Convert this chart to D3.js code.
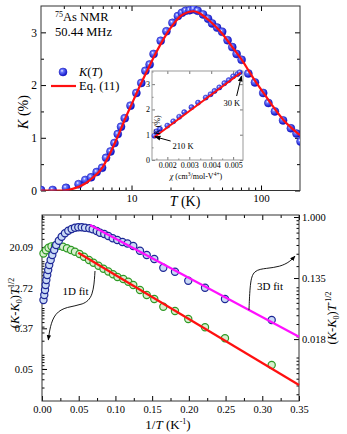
<!DOCTYPE html>
<html>
<head>
<meta charset="utf-8">
<script src="https://cdn.jsdelivr.net/npm/d3@7"></script>
<style>
body { margin: 0; background: #fff; }
svg text { font-family: "Liberation Serif", "Times New Roman", serif; fill: #000; }
</style>
</head>
<body>
<div id="wrapper"></div>
<script>
// top panel: K(T) data and Eq. (11) curve
const kT = [2.0, 2.46, 3.12, 3.9, 4.4, 4.87, 5.38, 5.93, 6.36, 6.88, 7.38, 7.83, 8.3, 8.87, 9.82, 10.9, 11.9, 12.8, 13.8, 14.8,
    16.8, 18.6, 20.7, 22.8, 24.5, 26.2, 28.1, 30.2, 32.4, 35.7, 39.0, 41.9, 45.8, 50.1, 55.2, 60.0, 64.8, 70.8, 79.8, 89.8,
    104, 114, 128, 148, 170, 188, 202];
const kVal = [0.01, 0.01, 0.05, 0.12, 0.2, 0.25, 0.35, 0.43, 0.62, 0.74, 0.90, 1.07, 1.21, 1.37, 1.61, 1.85, 2.04, 2.27, 2.39, 2.59,
    2.84, 3.02, 3.18, 3.31, 3.37, 3.41, 3.42, 3.44, 3.41, 3.34, 3.26, 3.17, 3.09, 3.01, 2.85, 2.72, 2.59, 2.48, 2.22, 2.05,
    1.85, 1.66, 1.50, 1.33, 1.18, 1.08, 0.93];
const fitT = [2, 3, 3.5, 4, 4.5, 5, 5.5, 6, 6.5, 7, 7.5, 8, 9, 10, 11, 12, 13, 14, 15, 17, 19, 21, 23, 25, 28, 30, 33, 36, 40,
    45, 50, 60, 70, 80, 90, 100, 120, 150, 175, 200];
const fitK = [0, 0, 0.03, 0.08, 0.15, 0.24, 0.33, 0.45, 0.6, 0.76, 0.92, 1.08, 1.38, 1.63, 1.86, 2.06, 2.24, 2.4, 2.55, 2.8, 3.0,
    3.15, 3.27, 3.34, 3.39, 3.40, 3.37, 3.31, 3.22, 3.1, 2.98, 2.72, 2.5, 2.28, 2.08, 1.92, 1.64, 1.33, 1.17, 1.05];

// inset: K vs chi
const insetChi = [0.00141, 0.0015, 0.00166, 0.0020, 0.00227, 0.00254, 0.00277, 0.0031, 0.0034, 0.00375, 0.00397, 0.00415,
    0.00437, 0.0046, 0.0048, 0.0050, 0.0052, 0.0053];
const insetK = [0.96, 1.13, 1.23, 1.36, 1.53, 1.71, 1.89, 2.09, 2.27, 2.47, 2.6, 2.73, 2.87, 3.04, 3.16, 3.31, 3.4, 3.47];
const insetFitChi = [0.00140, 0.00535];
const insetFitK = [0.90, 3.45];

// bottom panel
const blueInvT = [0.0020, 0.0031, 0.0041, 0.0049, 0.0059, 0.0071, 0.0084, 0.0098, 0.0118, 0.0140, 0.0166, 0.0193, 0.0229,
    0.0268, 0.0313, 0.0358, 0.0404, 0.0449, 0.0494, 0.0541, 0.0586, 0.0644, 0.0690, 0.0745, 0.0790, 0.0848, 0.0903, 0.0963,
    0.1025, 0.1096, 0.1164, 0.1243, 0.1334, 0.1426, 0.1529, 0.1652, 0.1811, 0.1992, 0.2220, 0.2492, 0.3128];
const blueVal = [0.0658, 0.0775, 0.0913, 0.1076, 0.1267, 0.1493, 0.1759, 0.2073, 0.2442, 0.2877, 0.3389, 0.3993, 0.4598,
    0.5243, 0.5860, 0.6383, 0.6749, 0.7040, 0.7133, 0.7133, 0.7040, 0.6906, 0.6682, 0.6319, 0.5977, 0.5728, 0.5364, 0.4974,
    0.4704, 0.4406, 0.4194, 0.3864, 0.3312, 0.2877, 0.2524, 0.1897, 0.1664, 0.1239, 0.0984, 0.0680, 0.0342];
const greenInvT = [0.0020, 0.0054, 0.0089, 0.0129, 0.0177, 0.0232, 0.0286, 0.0340, 0.0395, 0.0449, 0.0511, 0.0572, 0.0640,
    0.0701, 0.0769, 0.0837, 0.0903, 0.0967, 0.1028, 0.1107, 0.1175, 0.1243, 0.1334, 0.1426, 0.1529, 0.1652, 0.1811, 0.1992,
    0.2220, 0.2492, 0.3128];
const greenVal = [14.58, 17.08, 19.32, 20.78, 21.41, 21.30, 20.29, 18.84, 17.33, 15.94, 14.24, 12.41, 10.60, 9.24, 7.97,
    6.91, 6.02, 5.25, 4.59, 4.16, 3.64, 3.10, 2.42, 1.89, 1.56, 1.065, 0.862, 0.582, 0.387, 0.225, 0.0606];
const fit3dInvT = [0.0654, 0.35];
const fit3dVal = [0.769, 0.0197];
const fit1dInvT = [0.0494, 0.35];
const fit1dVal = [15.18, 0.0226];

const leftTicks = [0.0498, 0.3679, 2.7183, 20.0855];
const rightTicks = [1.0, 0.1353, 0.0183];
const bottomTicks = [0, 0.05, 0.10, 0.15, 0.20, 0.25, 0.30, 0.35];

const svg = d3.select("#wrapper").append("svg").attr("width", 347).attr("height", 434);
const defs = svg.append("defs");
const grad = defs.append("radialGradient").attr("id", "ball").attr("cx", "38%").attr("cy", "35%").attr("r", "65%");
grad.append("stop").attr("offset", "0%").attr("stop-color", "#ffffff");
grad.append("stop").attr("offset", "25%").attr("stop-color", "#6f7dff");
grad.append("stop").attr("offset", "100%").attr("stop-color", "#0c10c8");
defs.append("marker").attr("id", "head").attr("viewBox", "0 0 10 10").attr("refX", 9).attr("refY", 5)
    .attr("markerWidth", 6).attr("markerHeight", 6).attr("orient", "auto-start-reverse")
    .append("path").attr("d", "M0,1 L10,5 L0,9 Z").attr("fill", "#000");

function axis(g, gen, vals, size, fmt, pad, fs) {
    g.call(gen.tickValues(vals).tickSize(size).tickFormat(fmt || "").tickPadding(pad || 3));
    g.select(".domain").remove();
    g.attr("font-size", fs || 11).attr("font-family", null);
    g.selectAll("line").attr("stroke", "#000");
}
const range = (a, b, s) => d3.range(a, b + s / 2, s).map(v => +v.toFixed(6));

// ---------- top panel ----------
const x1 = d3.scaleLog().domain([2, 200]).range([41, 300]);
const y1 = d3.scaleLinear().domain([0, 3.5]).range([190.5, 6]);
defs.append("clipPath").attr("id", "clip1").append("rect")
    .attr("x", 41).attr("y", 6).attr("width", 259).attr("height", 184.5);

const panel1 = svg.append("g");
const xMinor = [3, 4, 5, 6, 7, 8, 9, 20, 30, 40, 50, 60, 70, 80, 90];
axis(panel1.append("g").attr("transform", "translate(0,190.5)"), d3.axisBottom(x1), [10, 100], -5, d3.format("d"), 4, 11);
axis(panel1.append("g").attr("transform", "translate(0,190.5)"), d3.axisBottom(x1), xMinor, -3);
axis(panel1.append("g").attr("transform", "translate(0,6)"), d3.axisTop(x1), [10, 100], -5);
axis(panel1.append("g").attr("transform", "translate(0,6)"), d3.axisTop(x1), xMinor, -3);
axis(panel1.append("g").attr("transform", "translate(41,0)"), d3.axisLeft(y1), [0, 1, 2, 3], -5, d3.format("d"), 4, 11.5);
axis(panel1.append("g").attr("transform", "translate(41,0)"), d3.axisLeft(y1), [0.5, 1.5, 2.5], -3);
axis(panel1.append("g").attr("transform", "translate(300,0)"), d3.axisRight(y1), [0, 1, 2, 3], -5);
axis(panel1.append("g").attr("transform", "translate(300,0)"), d3.axisRight(y1), [0.5, 1.5, 2.5], -3);
panel1.append("rect").attr("x", 41).attr("y", 6).attr("width", 259).attr("height", 184.5)
    .attr("fill", "none").attr("stroke", "#333").attr("stroke-width", 1);

const plot1 = panel1.append("g").attr("clip-path", "url(#clip1)");
plot1.selectAll("circle").data(kT).join("circle")
    .attr("cx", d => x1(d)).attr("cy", (d, i) => y1(kVal[i])).attr("r", 4)
    .attr("fill", "url(#ball)").attr("stroke", "#1616b8").attr("stroke-width", 0.5);
plot1.append("path")
    .attr("d", d3.line().curve(d3.curveMonotoneX).x(d => x1(d)).y((d, i) => y1(fitK[i]))(fitT))
    .attr("fill", "none").attr("stroke", "#ff1010").attr("stroke-width", 2.2);

const note = panel1.append("text").attr("x", 55).attr("y", 21).attr("font-size", 12.5);
note.append("tspan").attr("font-size", 8).attr("dy", -4).text("75");
note.append("tspan").attr("dy", 4).text("As NMR");
panel1.append("text").attr("x", 55).attr("y", 36).attr("font-size", 12.5).text("50.44 MHz");
panel1.append("circle").attr("cx", 63).attr("cy", 72).attr("r", 4)
    .attr("fill", "url(#ball)").attr("stroke", "#1616b8").attr("stroke-width", 0.5);
const lk = panel1.append("text").attr("x", 79).attr("y", 76).attr("font-size", 12.5);
lk.append("tspan").attr("font-style", "italic").text("K");
lk.append("tspan").text("(");
lk.append("tspan").attr("font-style", "italic").text("T");
lk.append("tspan").text(")");
panel1.append("line").attr("x1", 51).attr("x2", 76).attr("y1", 86).attr("y2", 86)
    .attr("stroke", "#ff1010").attr("stroke-width", 2.2);
panel1.append("text").attr("x", 79).attr("y", 90).attr("font-size", 12.5).text("Eq. (11)");

const tl = panel1.append("text").attr("x", 185).attr("y", 206).attr("font-size", 14).attr("text-anchor", "middle");
tl.append("tspan").attr("font-style", "italic").text("T");
tl.append("tspan").text(" (K)");
const kl = panel1.append("text").attr("transform", "translate(28,112) rotate(-90)")
    .attr("font-size", 14).attr("text-anchor", "middle");
kl.append("tspan").attr("font-style", "italic").text("K");
kl.append("tspan").text(" (%)");

// ---------- inset ----------
const xi = d3.scaleLinear().domain([0.0013, 0.00545]).range([152, 243]);
const yi = d3.scaleLinear().domain([0, 3.52]).range([160, 71]);
const inset = svg.append("g");
inset.append("rect").attr("x", 152).attr("y", 71).attr("width", 91).attr("height", 89).attr("fill", "#fff");
const fmtI = d3.format(".3f");
axis(inset.append("g").attr("transform", "translate(0,160)"), d3.axisBottom(xi), [0.002, 0.003, 0.004, 0.005], -3, fmtI, 2, 8);
axis(inset.append("g").attr("transform", "translate(0,160)"), d3.axisBottom(xi), [0.0015, 0.0025, 0.0035, 0.0045], -1.5);
axis(inset.append("g").attr("transform", "translate(0,71)"), d3.axisTop(xi), [0.002, 0.003, 0.004, 0.005], -3);
axis(inset.append("g").attr("transform", "translate(152,0)"), d3.axisLeft(yi), [0, 1, 2, 3], -3, d3.format("d"), 2, 8);
axis(inset.append("g").attr("transform", "translate(152,0)"), d3.axisLeft(yi), [0.5, 1.5, 2.5, 3.5], -1.5);
axis(inset.append("g").attr("transform", "translate(243,0)"), d3.axisRight(yi), [0, 1, 2, 3], -3);
inset.selectAll("line").attr("stroke", "#777");
inset.append("rect").attr("x", 152).attr("y", 71).attr("width", 91).attr("height", 89)
    .attr("fill", "none").attr("stroke", "#999").attr("stroke-width", 1);
inset.append("g").selectAll("circle").data(insetChi).join("circle")
    .attr("cx", d => xi(d)).attr("cy", (d, i) => yi(insetK[i])).attr("r", 2.6)
    .attr("fill", "url(#ball)").attr("stroke", "#1616b8").attr("stroke-width", 0.4);
inset.append("path")
    .attr("d", d3.line().x(d => xi(d)).y((d, i) => yi(insetFitK[i]))(insetFitChi))
    .attr("stroke", "#ff1010").attr("stroke-width", 2);
inset.append("path").attr("d", d3.line()([[xi(0.00215), yi(0.75)], [xi(0.00144), yi(0.92)]]))
    .attr("stroke", "#000").attr("stroke-width", 1).attr("marker-end", "url(#head)");
inset.append("text").attr("x", xi(0.00224)).attr("y", yi(0.43)).attr("font-size", 8.5).text("210 K");
inset.append("path").attr("d", d3.line()([[xi(0.00516), yi(2.53)], [xi(0.00538), yi(3.32)]]))
    .attr("stroke", "#000").attr("stroke-width", 1).attr("marker-end", "url(#head)");
inset.append("text").attr("x", xi(0.00456)).attr("y", yi(2.13)).attr("font-size", 8.5).text("30 K");
const il = inset.append("text").attr("transform", "translate(160,125) rotate(-90)")
    .attr("font-size", 8).attr("text-anchor", "middle");
il.append("tspan").attr("font-style", "italic").text("K");
il.append("tspan").text(" (%)");
const cl = inset.append("text").attr("x", 196).attr("y", 179).attr("font-size", 8).attr("text-anchor", "middle");
cl.append("tspan").attr("font-style", "italic").text("χ");
cl.append("tspan").text(" (cm");
cl.append("tspan").attr("font-size", 5.5).attr("dy", -3).text("3");
cl.append("tspan").attr("dy", 3).text("/mol-V");
cl.append("tspan").attr("font-size", 5.5).attr("dy", -3).text("4+");
cl.append("tspan").attr("dy", 3).text(")");

// ---------- bottom panel ----------
const x2 = d3.scaleLinear().domain([0, 0.35]).range([42, 299]);
const yL = d3.scaleLog().domain([Math.exp(-4.575), Math.exp(4.575)]).range([401, 215]);
const yR = d3.scaleLog().domain([Math.exp(-6.03), Math.exp(0.066)]).range([401, 215]);
const panel2 = svg.append("g");

const decMinor = (lo, hi) => {
    const out = [];
    for (let e = -4; e <= 2; e++) for (let k = 1; k <= 9; k++) {
        const v = k * Math.pow(10, e);
        if (v > lo && v < hi) out.push(v);
    }
    return out;
};
axis(panel2.append("g").attr("transform", "translate(0,401)"), d3.axisBottom(x2), bottomTicks, -5, d3.format(".2f"), 5, 10.5);
axis(panel2.append("g").attr("transform", "translate(0,401)"), d3.axisBottom(x2), range(0.025, 0.325, 0.05), -3);
axis(panel2.append("g").attr("transform", "translate(0,215)"), d3.axisTop(x2), bottomTicks, -5);
axis(panel2.append("g").attr("transform", "translate(0,215)"), d3.axisTop(x2), range(0.025, 0.325, 0.05), -3);
axis(panel2.append("g").attr("transform", "translate(42,0)"), d3.axisLeft(yL), leftTicks, -5, d3.format(".2f"), 9, 10.5);
axis(panel2.append("g").attr("transform", "translate(42,0)"), d3.axisLeft(yL), decMinor(yL.domain()[0], yL.domain()[1]), -2.5);
axis(panel2.append("g").attr("transform", "translate(299,0)"), d3.axisRight(yR), rightTicks, -5, d3.format(".3f"), 3, 10.5);
axis(panel2.append("g").attr("transform", "translate(299,0)"), d3.axisRight(yR), decMinor(yR.domain()[0], yR.domain()[1]), -2.5);
panel2.append("rect").attr("x", 42).attr("y", 215).attr("width", 257).attr("height", 186)
    .attr("fill", "none").attr("stroke", "#333").attr("stroke-width", 1);

panel2.append("g").selectAll("circle").data(greenInvT).join("circle")
    .attr("cx", d => x2(d)).attr("cy", (d, i) => yL(greenVal[i])).attr("r", 3.6)
    .attr("fill", "#d8efcf").attr("stroke", "#2f9a26").attr("stroke-width", 1.2);
panel2.append("g").selectAll("circle").data(blueInvT).join("circle")
    .attr("cx", d => x2(d)).attr("cy", (d, i) => yR(blueVal[i])).attr("r", 3.6)
    .attr("fill", "#c9d9f5").attr("stroke", "#1c2696").attr("stroke-width", 1.2);
panel2.append("path")
    .attr("d", d3.line().x(d => x2(d)).y((d, i) => yL(fit1dVal[i]))(fit1dInvT))
    .attr("stroke", "#ff1010").attr("stroke-width", 2.2);
panel2.append("path")
    .attr("d", d3.line().x(d => x2(d)).y((d, i) => yR(fit3dVal[i]))(fit3dInvT))
    .attr("stroke", "#ff10ff").attr("stroke-width", 2.2);

// fit annotations
const arrow1 = [[0.0722, 6.17], [0.0699, 1.74], [0.0562, 1.16], [0.0336, 1.065], [0.0177, 0.782], [0.0109, 0.398], [0.0086, 0.207]];
panel2.append("path")
    .attr("d", d3.line().curve(d3.curveBasis).x(d => x2(d[0])).y(d => yL(d[1]))(arrow1))
    .attr("fill", "none").attr("stroke", "#000").attr("stroke-width", 0.9).attr("marker-end", "url(#head)");
panel2.append("text").attr("x", x2(0.0456)).attr("y", yL(1.89)).attr("font-size", 11).attr("text-anchor", "middle").text("1D fit");
const arrow3 = [[0.2819, 0.0474], [0.2833, 0.1149], [0.2878, 0.176], [0.306, 0.186], [0.3241, 0.196], [0.3377, 0.231], [0.3445, 0.278]];
panel2.append("path")
    .attr("d", d3.line().curve(d3.curveBasis).x(d => x2(d[0])).y(d => yR(d[1]))(arrow3))
    .attr("fill", "none").attr("stroke", "#000").attr("stroke-width", 0.9).attr("marker-end", "url(#head)");
panel2.append("text").attr("x", x2(0.3105)).attr("y", yR(0.0913)).attr("font-size", 11).attr("text-anchor", "middle").text("3D fit");

const bx = panel2.append("text").attr("x", 168).attr("y", 429).attr("font-size", 13).attr("text-anchor", "middle");
bx.append("tspan").text("1/");
bx.append("tspan").attr("font-style", "italic").text("T");
bx.append("tspan").text(" (K");
bx.append("tspan").attr("font-size", 8).attr("dy", -5).text("-1");
bx.append("tspan").attr("dy", 5).text(")");

function kkLabel(g, sup) {
    g.append("tspan").text("(");
    g.append("tspan").attr("font-style", "italic").text("K");
    g.append("tspan").text("-");
    g.append("tspan").attr("font-style", "italic").text("K");
    g.append("tspan").attr("font-size", 8).attr("dy", 3).text("0");
    g.append("tspan").attr("dy", -3).text(")");
    g.append("tspan").attr("font-style", "italic").text("T");
    g.append("tspan").attr("font-size", 8).attr("dy", -5).text(sup);
}
kkLabel(panel2.append("text").attr("transform", "translate(19,303) rotate(-90)")
    .attr("font-size", 12.5).attr("text-anchor", "middle"), "1/2");
kkLabel(panel2.append("text").attr("transform", "translate(336,318) rotate(-90)")
    .attr("font-size", 12.5).attr("text-anchor", "middle"), "-1/2");
</script>
</body>
</html>
